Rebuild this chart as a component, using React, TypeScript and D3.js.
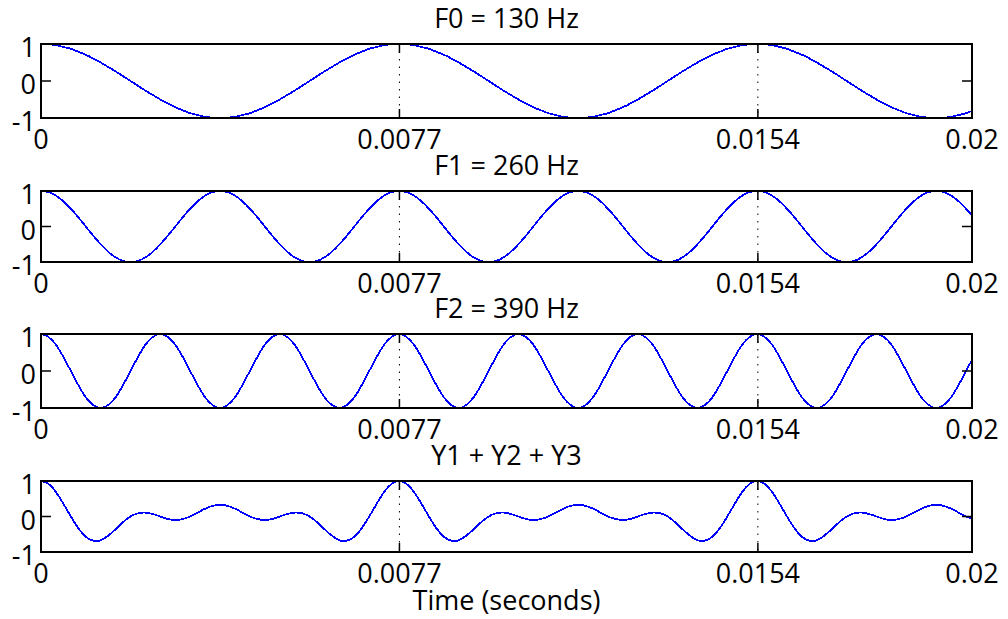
import React from "react";
import * as d3 from "d3";

// ---- data ----
const TITLES = ["F0 = 130 Hz", "F1 = 260 Hz", "F2 = 390 Hz", "Y1 + Y2 + Y3"];
const X_TICKS = [0, 0.0077, 0.0154, 0.02];
const X_TICK_LABELS = ["0", "0.0077", "0.0154", "0.02"];
const Y_TICKS = [-1, 0, 1];
const Y_TICK_LABELS = ["-1", "0", "1"];
const X_DOMAIN = [0, 0.02];
const X_LABEL = "Time (seconds)";
// samples are taken every 1/48 of the 130 Hz period
const SAMPLE_STEP_S = 1 / 130 / 48;

const Y1 = [
  1, 0.99, 0.97, 0.92, 0.87, 0.79, 0.71, 0.61, 0.5, 0.38, 0.26, 0.13, 0, -0.13, -0.26, -0.38, -0.5, -0.61, -0.71, -0.79, -0.87, -0.92, -0.97, -0.99,
  -1, -0.99, -0.97, -0.92, -0.87, -0.79, -0.71, -0.61, -0.5, -0.38, -0.26, -0.13, 0, 0.13, 0.26, 0.38, 0.5, 0.61, 0.71, 0.79, 0.87, 0.92, 0.97, 0.99,
  1, 0.99, 0.97, 0.92, 0.87, 0.79, 0.71, 0.61, 0.5, 0.38, 0.26, 0.13, 0, -0.13, -0.26, -0.38, -0.5, -0.61, -0.71, -0.79, -0.87, -0.92, -0.97, -0.99,
  -1, -0.99, -0.97, -0.92, -0.87, -0.79, -0.71, -0.61, -0.5, -0.38, -0.26, -0.13, 0, 0.13, 0.26, 0.38, 0.5, 0.61, 0.71, 0.79, 0.87, 0.92, 0.97, 0.99,
  1, 0.99, 0.97, 0.92, 0.87, 0.79, 0.71, 0.61, 0.5, 0.38, 0.26, 0.13, 0, -0.13, -0.26, -0.38, -0.5, -0.61, -0.71, -0.79, -0.87, -0.92, -0.97, -0.99,
  -1, -0.99, -0.97, -0.92, -0.87, -0.79,
];

const Y2 = [
  1, 0.97, 0.87, 0.71, 0.5, 0.26, 0, -0.26, -0.5, -0.71, -0.87, -0.97, -1, -0.97, -0.87, -0.71, -0.5, -0.26, 0, 0.26, 0.5, 0.71, 0.87, 0.97,
  1, 0.97, 0.87, 0.71, 0.5, 0.26, 0, -0.26, -0.5, -0.71, -0.87, -0.97, -1, -0.97, -0.87, -0.71, -0.5, -0.26, 0, 0.26, 0.5, 0.71, 0.87, 0.97,
  1, 0.97, 0.87, 0.71, 0.5, 0.26, 0, -0.26, -0.5, -0.71, -0.87, -0.97, -1, -0.97, -0.87, -0.71, -0.5, -0.26, 0, 0.26, 0.5, 0.71, 0.87, 0.97,
  1, 0.97, 0.87, 0.71, 0.5, 0.26, 0, -0.26, -0.5, -0.71, -0.87, -0.97, -1, -0.97, -0.87, -0.71, -0.5, -0.26, 0, 0.26, 0.5, 0.71, 0.87, 0.97,
  1, 0.97, 0.87, 0.71, 0.5, 0.26, 0, -0.26, -0.5, -0.71, -0.87, -0.97, -1, -0.97, -0.87, -0.71, -0.5, -0.26, 0, 0.26, 0.5, 0.71, 0.87, 0.97,
  1, 0.97, 0.87, 0.71, 0.5, 0.26,
];

const Y3 = [
  1, 0.92, 0.71, 0.38, 0, -0.38, -0.71, -0.92, -1, -0.92, -0.71, -0.38, 0, 0.38, 0.71, 0.92,
  1, 0.92, 0.71, 0.38, 0, -0.38, -0.71, -0.92, -1, -0.92, -0.71, -0.38, 0, 0.38, 0.71, 0.92,
  1, 0.92, 0.71, 0.38, 0, -0.38, -0.71, -0.92, -1, -0.92, -0.71, -0.38, 0, 0.38, 0.71, 0.92,
  1, 0.92, 0.71, 0.38, 0, -0.38, -0.71, -0.92, -1, -0.92, -0.71, -0.38, 0, 0.38, 0.71, 0.92,
  1, 0.92, 0.71, 0.38, 0, -0.38, -0.71, -0.92, -1, -0.92, -0.71, -0.38, 0, 0.38, 0.71, 0.92,
  1, 0.92, 0.71, 0.38, 0, -0.38, -0.71, -0.92, -1, -0.92, -0.71, -0.38, 0, 0.38, 0.71, 0.92,
  1, 0.92, 0.71, 0.38, 0, -0.38, -0.71, -0.92, -1, -0.92, -0.71, -0.38, 0, 0.38, 0.71, 0.92,
  1, 0.92, 0.71, 0.38, 0, -0.38, -0.71, -0.92, -1, -0.92, -0.71, -0.38, 0, 0.38,
];

const Y_SUM = [
  1, 0.92, 0.69, 0.36, 0, -0.33, -0.57, -0.68, -0.67, -0.54, -0.36, -0.16, 0, 0.09, 0.11, 0.07, 0, -0.07, -0.1, -0.07, 0, 0.11, 0.22, 0.3,
  0.33, 0.3, 0.22, 0.11, 0, -0.07, -0.1, -0.07, 0, 0.07, 0.11, 0.09, 0, -0.16, -0.36, -0.54, -0.67, -0.68, -0.57, -0.33, 0, 0.36, 0.69, 0.92,
  1, 0.92, 0.69, 0.36, 0, -0.33, -0.57, -0.68, -0.67, -0.54, -0.36, -0.16, 0, 0.09, 0.11, 0.07, 0, -0.07, -0.1, -0.07, 0, 0.11, 0.22, 0.3,
  0.33, 0.3, 0.22, 0.11, 0, -0.07, -0.1, -0.07, 0, 0.07, 0.11, 0.09, 0, -0.16, -0.36, -0.54, -0.67, -0.68, -0.57, -0.33, 0, 0.36, 0.69, 0.92,
  1, 0.92, 0.69, 0.36, 0, -0.33, -0.57, -0.68, -0.67, -0.54, -0.36, -0.16, 0, 0.09, 0.11, 0.07, 0, -0.07, -0.1, -0.07, 0, 0.11, 0.22, 0.3,
  0.33, 0.3, 0.22, 0.11, 0, -0.07,
];

const SERIES = [Y1, Y2, Y3, Y_SUM];

// ---- layout ----
const W = 1008;
const H = 619;
const PLOT_LEFT = 41;
const PLOT_RIGHT = 972;
const PANEL_TOPS = [44, 191, 334, 481];
const PANEL_BOTTOMS = [118, 262, 408, 552];
const FONT = "'Open Sans', sans-serif";
const FS = 27;

export default function App() {
  const x = d3.scaleLinear().domain(X_DOMAIN).range([PLOT_LEFT, PLOT_RIGHT]);
  const cx = (PLOT_LEFT + PLOT_RIGHT) / 2;
  return (
    <svg
      width={W}
      height={H}
      style={{ position: "absolute", left: 0, top: 0 }}
      fontFamily={FONT}
      fontSize={FS}
    >
      <rect width={W} height={H} fill="#fff" />
      {SERIES.map((vals, p) => {
        const top = PANEL_TOPS[p];
        const bottom = PANEL_BOTTOMS[p];
        const y = d3.scaleLinear().domain([-1, 1]).range([bottom, top]);
        const line = d3
          .line<number>()
          .x((_, i) => x(i * SAMPLE_STEP_S))
          .y((d) => y(d))
          .curve(d3.curveNatural);
        const clipId = `clip-${p}`;
        return (
          <g key={p}>
            <defs>
              <clipPath id={clipId}>
                <rect x={PLOT_LEFT} y={top - 2} width={PLOT_RIGHT - PLOT_LEFT} height={bottom - top + 4} />
              </clipPath>
            </defs>
            {/* dotted x grid */}
            {X_TICKS.map((t, i) => (
              <line
                key={`g${i}`}
                x1={x(t)}
                x2={x(t)}
                y1={top}
                y2={bottom}
                stroke="#000"
                strokeWidth={1}
                strokeDasharray="1.5 6"
              />
            ))}
            <path
              d={line(vals) || ""}
              fill="none"
              stroke="#0000ff"
              strokeWidth={1.8}
              shapeRendering="crispEdges"
              clipPath={`url(#${clipId})`}
            />
            {/* frame */}
            <rect
              x={PLOT_LEFT}
              y={top}
              width={PLOT_RIGHT - PLOT_LEFT}
              height={bottom - top}
              fill="none"
              stroke="#000"
              strokeWidth={2}
            />
            {/* y ticks */}
            {Y_TICKS.map((v, i) => (
              <g key={`yt${i}`}>
                <line x1={PLOT_LEFT} x2={PLOT_LEFT + 10} y1={y(v)} y2={y(v)} stroke="#000" strokeWidth={1.5} />
                <line x1={PLOT_RIGHT - 10} x2={PLOT_RIGHT} y1={y(v)} y2={y(v)} stroke="#000" strokeWidth={1.5} />
                <text x={36} y={y(v) + 13} textAnchor="end" fill="#000">
                  {Y_TICK_LABELS[i]}
                </text>
              </g>
            ))}
            {/* x ticks */}
            {X_TICKS.map((t, i) => (
              <g key={`xt${i}`}>
                <line x1={x(t)} x2={x(t)} y1={top} y2={top + 9} stroke="#000" strokeWidth={1.5} />
                <line x1={x(t)} x2={x(t)} y1={bottom - 9} y2={bottom} stroke="#000" strokeWidth={1.5} />
                <text x={x(t)} y={bottom + 31} textAnchor="middle" fill="#000">
                  {X_TICK_LABELS[i]}
                </text>
              </g>
            ))}
            <text x={cx} y={top - 16} textAnchor="middle" fill="#000">
              {TITLES[p]}
            </text>
          </g>
        );
      })}
      <text x={cx} y={610} textAnchor="middle" fill="#000">
        {X_LABEL}
      </text>
    </svg>
  );
}
